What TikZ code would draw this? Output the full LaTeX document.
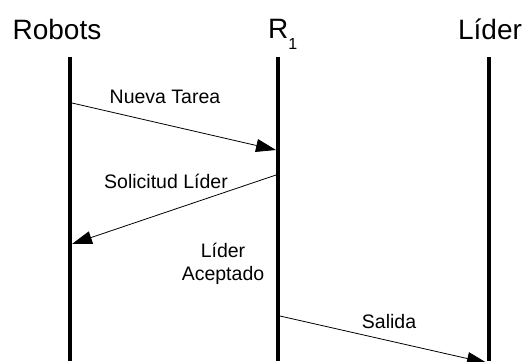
\documentclass[tikz,border=0pt]{standalone}
\usepackage{fontspec}
\setmainfont{Liberation Sans}
\usetikzlibrary{arrows.meta, positioning}

\begin{document}
\begin{tikzpicture}[x=1pt, y=-1pt]
    % Define styles
    \tikzstyle{title} = [font=\fontsize{28}{28}\selectfont, inner sep=0pt, anchor=base]
    \tikzstyle{lifeline} = [draw, line width=3.5pt]
    \tikzstyle{msg} = [draw, line width=0.8pt, -{Triangle[length=20pt, width=13pt]}]
    \tikzstyle{msgtext} = [font=\fontsize{19.5}{23}\selectfont, align=center, inner sep=0pt]

    \useasboundingbox (0,0) rectangle (526,361);

    % Titles of the lifelines
    \node[title] (Robots) at (57,40) {Robots};
    \node[title, anchor=base west] (R1) at (268,38) {R\raisebox{-11pt}{\fontsize{16}{16}\selectfont 1}};
    \node[title] (Lider) at (490,40) {Líder};

    % Lifelines
    \coordinate (RobotsTop) at (70,57);
    \coordinate (RobotsBot) at (70,361);
    \coordinate (R1Top) at (278,57);
    \coordinate (R1Bot) at (278,361);
    \coordinate (LiderTop) at (489,57);
    \coordinate (LiderBot) at (489,361);
    \draw[lifeline] (RobotsTop) -- (RobotsBot);
    \draw[lifeline] (R1Top) -- (R1Bot);
    \draw[lifeline] (LiderTop) -- (LiderBot);

    % Message end points
    \coordinate (tareaA) at (72,103);
    \coordinate (tareaB) at (276,150);
    \coordinate (solA) at (276,175);
    \coordinate (solB) at (72,244);
    \coordinate (salA) at (280,316);
    \coordinate (salB) at (487,363);

    % Messages
    \draw[msg] (tareaA) -- (tareaB);
    \node[msgtext] (tarea) at (165,97) {Nueva Tarea};
    \draw[msg] (solA) -- (solB);
    \node[msgtext] (sol) at (166,181) {Solicitud Líder};
    \node[msgtext] (acept) at (223,264) {Líder\\Aceptado};
    \draw[msg] (salA) -- (salB);
    \node[msgtext] (sal) at (389,322) {Salida};
\end{tikzpicture}
\end{document}
